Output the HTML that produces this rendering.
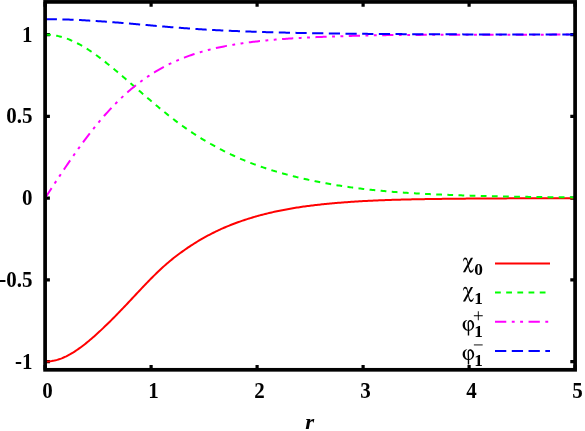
<!DOCTYPE html>
<html><head><meta charset="utf-8"><title>plot</title>
<style>
html,body{margin:0;padding:0;background:#fff;}
body{width:585px;height:431px;overflow:hidden;font-family:"Liberation Serif",serif;}
svg{display:block;will-change:transform;opacity:0.999;}
</style></head><body>
<svg width="585" height="431" viewBox="0 0 585 431">
<rect x="0" y="0" width="585" height="431" fill="#ffffff"/>
<path d="M45.10,369.80 v-4.80 M45.10,1.90 v4.80 M151.10,369.80 v-4.80 M151.10,1.90 v4.80 M257.10,369.80 v-4.80 M257.10,1.90 v4.80 M363.10,369.80 v-4.80 M363.10,1.90 v4.80 M469.10,369.80 v-4.80 M469.10,1.90 v4.80 M575.10,369.80 v-4.80 M575.10,1.90 v4.80 M45.10,361.62 h4.80 M575.10,361.62 h-4.80 M45.10,279.87 h4.80 M575.10,279.87 h-4.80 M45.10,198.11 h4.80 M575.10,198.11 h-4.80 M45.10,116.36 h4.80 M575.10,116.36 h-4.80 M45.10,34.60 h4.80 M575.10,34.60 h-4.80" stroke="#000" stroke-width="3.2" fill="none"/>
<path d="M45.10,361.62 L46.43,361.60 L47.75,361.54 L49.08,361.43 L50.40,361.28 L51.73,361.09 L53.05,360.85 L54.38,360.58 L55.70,360.26 L57.02,359.90 L58.35,359.50 L59.68,359.06 L61.00,358.58 L62.33,358.06 L63.65,357.50 L64.97,356.91 L66.30,356.28 L67.62,355.61 L68.95,354.91 L70.28,354.18 L71.60,353.41 L72.93,352.62 L74.25,351.79 L75.58,350.93 L76.90,350.04 L78.22,349.13 L79.55,348.19 L80.88,347.23 L82.20,346.24 L83.53,345.22 L84.85,344.19 L86.18,343.13 L87.50,342.06 L88.83,340.96 L90.15,339.85 L91.47,338.72 L92.80,337.57 L94.12,336.40 L95.45,335.22 L96.78,334.03 L98.10,332.82 L99.43,331.60 L100.75,330.36 L102.08,329.12 L103.40,327.86 L104.72,326.59 L106.05,325.31 L107.38,324.03 L108.70,322.73 L110.03,321.42 L111.35,320.11 L112.68,318.78 L114.00,317.45 L115.33,316.11 L116.65,314.76 L117.97,313.40 L119.30,312.04 L120.62,310.66 L121.95,309.28 L123.28,307.90 L124.60,306.50 L125.93,305.10 L127.25,303.70 L128.58,302.29 L129.90,300.88 L131.22,299.47 L132.55,298.05 L133.88,296.63 L135.20,295.22 L136.53,293.80 L137.85,292.39 L139.18,290.98 L140.50,289.57 L141.83,288.17 L143.15,286.77 L144.47,285.38 L145.80,284.00 L147.12,282.62 L148.45,281.25 L149.78,279.90 L151.10,278.55 L152.42,277.22 L153.75,275.90 L155.08,274.59 L156.40,273.29 L157.72,272.01 L159.05,270.75 L160.38,269.50 L161.70,268.27 L163.03,267.06 L164.35,265.87 L165.67,264.70 L167.00,263.54 L168.33,262.41 L169.65,261.30 L170.97,260.21 L172.30,259.14 L173.62,258.09 L174.95,257.06 L176.28,256.04 L177.60,255.03 L178.93,254.03 L180.25,253.05 L181.57,252.08 L182.90,251.13 L184.22,250.19 L185.55,249.26 L186.88,248.34 L188.20,247.44 L189.53,246.56 L190.85,245.68 L192.18,244.82 L193.50,243.97 L194.83,243.13 L196.15,242.31 L197.47,241.50 L198.80,240.70 L200.13,239.92 L201.45,239.14 L202.77,238.38 L204.10,237.64 L205.43,236.90 L206.75,236.17 L208.07,235.46 L209.40,234.76 L210.72,234.07 L212.05,233.39 L213.38,232.73 L214.70,232.07 L216.03,231.43 L217.35,230.80 L218.68,230.17 L220.00,229.56 L221.33,228.96 L222.65,228.37 L223.97,227.79 L225.30,227.22 L226.62,226.66 L227.95,226.11 L229.28,225.57 L230.60,225.04 L231.93,224.52 L233.25,224.01 L234.58,223.50 L235.90,223.01 L237.22,222.53 L238.55,222.05 L239.88,221.58 L241.20,221.12 L242.53,220.66 L243.85,220.21 L245.18,219.78 L246.50,219.34 L247.82,218.92 L249.15,218.50 L250.47,218.09 L251.80,217.69 L253.12,217.29 L254.45,216.90 L255.78,216.52 L257.10,216.14 L258.43,215.77 L259.75,215.41 L261.08,215.05 L262.40,214.70 L263.73,214.36 L265.05,214.02 L266.38,213.69 L267.70,213.36 L269.03,213.04 L270.35,212.73 L271.68,212.42 L273.00,212.12 L274.32,211.82 L275.65,211.53 L276.98,211.25 L278.30,210.97 L279.62,210.70 L280.95,210.43 L282.28,210.16 L283.60,209.91 L284.93,209.65 L286.25,209.41 L287.58,209.16 L288.90,208.92 L290.23,208.69 L291.55,208.46 L292.88,208.24 L294.20,208.02 L295.53,207.81 L296.85,207.59 L298.18,207.39 L299.50,207.19 L300.83,206.99 L302.15,206.80 L303.48,206.61 L304.80,206.42 L306.13,206.24 L307.45,206.07 L308.78,205.89 L310.10,205.72 L311.43,205.56 L312.75,205.40 L314.08,205.24 L315.40,205.08 L316.73,204.93 L318.05,204.78 L319.38,204.64 L320.70,204.50 L322.03,204.36 L323.35,204.22 L324.68,204.09 L326.00,203.96 L327.32,203.83 L328.65,203.70 L329.98,203.57 L331.30,203.45 L332.63,203.33 L333.95,203.21 L335.28,203.09 L336.60,202.98 L337.93,202.87 L339.25,202.76 L340.58,202.65 L341.90,202.55 L343.23,202.44 L344.55,202.34 L345.88,202.24 L347.20,202.15 L348.53,202.05 L349.85,201.96 L351.18,201.87 L352.50,201.78 L353.83,201.69 L355.15,201.60 L356.48,201.52 L357.80,201.43 L359.13,201.35 L360.45,201.28 L361.78,201.20 L363.10,201.12 L364.43,201.05 L365.75,200.98 L367.08,200.91 L368.40,200.84 L369.73,200.77 L371.05,200.71 L372.38,200.64 L373.70,200.58 L375.03,200.52 L376.35,200.46 L377.68,200.40 L379.00,200.35 L380.33,200.29 L381.65,200.24 L382.98,200.19 L384.30,200.14 L385.63,200.09 L386.95,200.04 L388.28,200.00 L389.60,199.95 L390.93,199.91 L392.25,199.86 L393.57,199.82 L394.90,199.78 L396.23,199.75 L397.55,199.71 L398.88,199.67 L400.20,199.64 L401.53,199.60 L402.85,199.57 L404.18,199.54 L405.50,199.51 L406.83,199.48 L408.15,199.45 L409.48,199.42 L410.80,199.39 L412.13,199.36 L413.45,199.33 L414.78,199.31 L416.10,199.28 L417.43,199.26 L418.75,199.23 L420.08,199.21 L421.40,199.18 L422.73,199.16 L424.05,199.14 L425.38,199.11 L426.70,199.09 L428.03,199.07 L429.35,199.05 L430.68,199.03 L432.00,199.01 L433.33,198.99 L434.65,198.97 L435.98,198.95 L437.30,198.94 L438.63,198.92 L439.95,198.90 L441.28,198.88 L442.60,198.87 L443.93,198.85 L445.25,198.83 L446.58,198.82 L447.90,198.80 L449.23,198.79 L450.55,198.77 L451.88,198.76 L453.20,198.74 L454.53,198.73 L455.85,198.72 L457.18,198.70 L458.50,198.69 L459.82,198.68 L461.15,198.67 L462.48,198.65 L463.80,198.64 L465.13,198.63 L466.45,198.62 L467.78,198.61 L469.10,198.60 L470.43,198.59 L471.75,198.58 L473.08,198.57 L474.40,198.56 L475.73,198.55 L477.05,198.54 L478.38,198.53 L479.70,198.52 L481.03,198.51 L482.35,198.50 L483.68,198.49 L485.00,198.49 L486.33,198.48 L487.65,198.47 L488.98,198.46 L490.30,198.45 L491.63,198.45 L492.95,198.44 L494.27,198.43 L495.60,198.43 L496.93,198.42 L498.25,198.41 L499.58,198.41 L500.90,198.40 L502.23,198.39 L503.55,198.39 L504.88,198.38 L506.20,198.38 L507.52,198.37 L508.85,198.36 L510.18,198.36 L511.50,198.35 L512.83,198.35 L514.15,198.34 L515.48,198.34 L516.80,198.33 L518.12,198.33 L519.45,198.32 L520.77,198.32 L522.10,198.31 L523.43,198.31 L524.75,198.31 L526.08,198.30 L527.40,198.30 L528.73,198.29 L530.05,198.29 L531.38,198.29 L532.70,198.28 L534.02,198.28 L535.35,198.27 L536.67,198.27 L538.00,198.27 L539.33,198.26 L540.65,198.26 L541.98,198.26 L543.30,198.25 L544.62,198.25 L545.95,198.25 L547.27,198.25 L548.60,198.24 L549.92,198.24 L551.25,198.24 L552.58,198.23 L553.90,198.23 L555.23,198.23 L556.55,198.23 L557.88,198.22 L559.20,198.22 L560.53,198.22 L561.85,198.22 L563.18,198.22 L564.50,198.21 L565.83,198.21 L567.15,198.21 L568.48,198.21 L569.80,198.20 L571.12,198.20 L572.45,198.20 L573.78,198.20 L575.10,198.20" stroke="#ff0000" stroke-width="2.0" fill="none" stroke-linejoin="round"/>
<path d="M45.10,34.60 L46.43,34.62 L47.75,34.66 L49.08,34.74 L50.40,34.85 L51.73,34.98 L53.05,35.15 L54.38,35.35 L55.70,35.58 L57.02,35.83 L58.35,36.12 L59.68,36.44 L61.00,36.78 L62.33,37.15 L63.65,37.56 L64.97,37.99 L66.30,38.44 L67.62,38.93 L68.95,39.44 L70.28,39.98 L71.60,40.55 L72.93,41.14 L74.25,41.75 L75.58,42.39 L76.90,43.05 L78.22,43.74 L79.55,44.45 L80.88,45.19 L82.20,45.94 L83.53,46.72 L84.85,47.51 L86.18,48.33 L87.50,49.17 L88.83,50.03 L90.15,50.90 L91.47,51.79 L92.80,52.70 L94.12,53.63 L95.45,54.57 L96.78,55.53 L98.10,56.50 L99.43,57.49 L100.75,58.49 L102.08,59.50 L103.40,60.52 L104.72,61.56 L106.05,62.61 L107.38,63.66 L108.70,64.73 L110.03,65.81 L111.35,66.89 L112.68,67.98 L114.00,69.08 L115.33,70.19 L116.65,71.30 L117.97,72.42 L119.30,73.55 L120.62,74.68 L121.95,75.81 L123.28,76.94 L124.60,78.08 L125.93,79.23 L127.25,80.37 L128.58,81.52 L129.90,82.66 L131.22,83.81 L132.55,84.96 L133.88,86.11 L135.20,87.26 L136.53,88.41 L137.85,89.57 L139.18,90.72 L140.50,91.87 L141.83,93.02 L143.15,94.16 L144.47,95.31 L145.80,96.45 L147.12,97.59 L148.45,98.73 L149.78,99.86 L151.10,100.99 L152.42,102.12 L153.75,103.24 L155.08,104.36 L156.40,105.47 L157.72,106.57 L159.05,107.67 L160.38,108.77 L161.70,109.86 L163.03,110.94 L164.35,112.01 L165.67,113.08 L167.00,114.14 L168.33,115.19 L169.65,116.24 L170.97,117.28 L172.30,118.30 L173.62,119.32 L174.95,120.34 L176.28,121.34 L177.60,122.33 L178.93,123.32 L180.25,124.29 L181.57,125.26 L182.90,126.21 L184.22,127.16 L185.55,128.09 L186.88,129.02 L188.20,129.93 L189.53,130.84 L190.85,131.73 L192.18,132.61 L193.50,133.49 L194.83,134.35 L196.15,135.20 L197.47,136.05 L198.80,136.88 L200.13,137.71 L201.45,138.53 L202.77,139.33 L204.10,140.13 L205.43,140.92 L206.75,141.71 L208.07,142.48 L209.40,143.24 L210.72,144.00 L212.05,144.74 L213.38,145.48 L214.70,146.21 L216.03,146.93 L217.35,147.64 L218.68,148.35 L220.00,149.04 L221.33,149.73 L222.65,150.41 L223.97,151.08 L225.30,151.74 L226.62,152.39 L227.95,153.04 L229.28,153.67 L230.60,154.30 L231.93,154.92 L233.25,155.53 L234.58,156.14 L235.90,156.74 L237.22,157.33 L238.55,157.91 L239.88,158.48 L241.20,159.05 L242.53,159.61 L243.85,160.16 L245.18,160.71 L246.50,161.24 L247.82,161.78 L249.15,162.30 L250.47,162.82 L251.80,163.32 L253.12,163.83 L254.45,164.32 L255.78,164.81 L257.10,165.30 L258.43,165.77 L259.75,166.24 L261.08,166.70 L262.40,167.16 L263.73,167.61 L265.05,168.06 L266.38,168.49 L267.70,168.93 L269.03,169.35 L270.35,169.77 L271.68,170.19 L273.00,170.60 L274.32,171.00 L275.65,171.40 L276.98,171.79 L278.30,172.17 L279.62,172.55 L280.95,172.93 L282.28,173.30 L283.60,173.67 L284.93,174.04 L286.25,174.40 L287.58,174.75 L288.90,175.10 L290.23,175.45 L291.55,175.79 L292.88,176.13 L294.20,176.47 L295.53,176.80 L296.85,177.13 L298.18,177.45 L299.50,177.77 L300.83,178.08 L302.15,178.40 L303.48,178.70 L304.80,179.01 L306.13,179.31 L307.45,179.60 L308.78,179.89 L310.10,180.18 L311.43,180.47 L312.75,180.75 L314.08,181.02 L315.40,181.30 L316.73,181.57 L318.05,181.83 L319.38,182.09 L320.70,182.35 L322.03,182.61 L323.35,182.86 L324.68,183.11 L326.00,183.35 L327.32,183.59 L328.65,183.83 L329.98,184.07 L331.30,184.30 L332.63,184.52 L333.95,184.75 L335.28,184.97 L336.60,185.19 L337.93,185.40 L339.25,185.61 L340.58,185.82 L341.90,186.03 L343.23,186.23 L344.55,186.43 L345.88,186.62 L347.20,186.81 L348.53,187.00 L349.85,187.19 L351.18,187.37 L352.50,187.56 L353.83,187.73 L355.15,187.91 L356.48,188.08 L357.80,188.25 L359.13,188.42 L360.45,188.58 L361.78,188.74 L363.10,188.90 L364.43,189.06 L365.75,189.21 L367.08,189.36 L368.40,189.51 L369.73,189.65 L371.05,189.80 L372.38,189.94 L373.70,190.08 L375.03,190.21 L376.35,190.35 L377.68,190.48 L379.00,190.61 L380.33,190.73 L381.65,190.86 L382.98,190.98 L384.30,191.10 L385.63,191.22 L386.95,191.33 L388.28,191.44 L389.60,191.56 L390.93,191.67 L392.25,191.77 L393.57,191.88 L394.90,191.98 L396.23,192.08 L397.55,192.18 L398.88,192.28 L400.20,192.37 L401.53,192.47 L402.85,192.56 L404.18,192.65 L405.50,192.74 L406.83,192.83 L408.15,192.91 L409.48,192.99 L410.80,193.08 L412.13,193.16 L413.45,193.23 L414.78,193.31 L416.10,193.39 L417.43,193.46 L418.75,193.53 L420.08,193.60 L421.40,193.67 L422.73,193.74 L424.05,193.81 L425.38,193.88 L426.70,193.95 L428.03,194.01 L429.35,194.07 L430.68,194.14 L432.00,194.20 L433.33,194.26 L434.65,194.32 L435.98,194.38 L437.30,194.44 L438.63,194.50 L439.95,194.55 L441.28,194.61 L442.60,194.66 L443.93,194.72 L445.25,194.77 L446.58,194.82 L447.90,194.87 L449.23,194.92 L450.55,194.97 L451.88,195.02 L453.20,195.07 L454.53,195.12 L455.85,195.17 L457.18,195.21 L458.50,195.26 L459.82,195.30 L461.15,195.35 L462.48,195.39 L463.80,195.43 L465.13,195.47 L466.45,195.52 L467.78,195.56 L469.10,195.60 L470.43,195.64 L471.75,195.67 L473.08,195.71 L474.40,195.75 L475.73,195.79 L477.05,195.82 L478.38,195.86 L479.70,195.89 L481.03,195.93 L482.35,195.96 L483.68,196.00 L485.00,196.03 L486.33,196.06 L487.65,196.09 L488.98,196.13 L490.30,196.16 L491.63,196.19 L492.95,196.22 L494.27,196.25 L495.60,196.28 L496.93,196.31 L498.25,196.33 L499.58,196.36 L500.90,196.39 L502.23,196.42 L503.55,196.44 L504.88,196.47 L506.20,196.49 L507.52,196.52 L508.85,196.54 L510.18,196.57 L511.50,196.59 L512.83,196.62 L514.15,196.64 L515.48,196.66 L516.80,196.69 L518.12,196.71 L519.45,196.73 L520.77,196.75 L522.10,196.77 L523.43,196.79 L524.75,196.82 L526.08,196.84 L527.40,196.86 L528.73,196.88 L530.05,196.89 L531.38,196.91 L532.70,196.93 L534.02,196.95 L535.35,196.97 L536.67,196.99 L538.00,197.00 L539.33,197.02 L540.65,197.04 L541.98,197.06 L543.30,197.07 L544.62,197.09 L545.95,197.10 L547.27,197.12 L548.60,197.14 L549.92,197.15 L551.25,197.17 L552.58,197.18 L553.90,197.20 L555.23,197.21 L556.55,197.22 L557.88,197.24 L559.20,197.25 L560.53,197.27 L561.85,197.28 L563.18,197.29 L564.50,197.30 L565.83,197.32 L567.15,197.33 L568.48,197.34 L569.80,197.35 L571.12,197.37 L572.45,197.38 L573.78,197.39 L575.10,197.40" stroke="#00ff00" stroke-width="2.0" fill="none" stroke-dasharray="5.77 5.37"/>
<path d="M45.10,198.11 L46.43,196.08 L47.75,194.05 L49.08,192.02 L50.40,189.99 L51.73,187.97 L53.05,185.95 L54.38,183.93 L55.70,181.91 L57.02,179.90 L58.35,177.90 L59.68,175.90 L61.00,173.91 L62.33,171.93 L63.65,169.96 L64.97,167.99 L66.30,166.03 L67.62,164.08 L68.95,162.15 L70.28,160.22 L71.60,158.30 L72.93,156.40 L74.25,154.51 L75.58,152.63 L76.90,150.77 L78.22,148.91 L79.55,147.08 L80.88,145.25 L82.20,143.44 L83.53,141.65 L84.85,139.87 L86.18,138.11 L87.50,136.36 L88.83,134.63 L90.15,132.92 L91.47,131.23 L92.80,129.55 L94.12,127.89 L95.45,126.24 L96.78,124.62 L98.10,123.01 L99.43,121.43 L100.75,119.86 L102.08,118.31 L103.40,116.78 L104.72,115.27 L106.05,113.77 L107.38,112.30 L108.70,110.84 L110.03,109.41 L111.35,108.00 L112.68,106.60 L114.00,105.22 L115.33,103.87 L116.65,102.53 L117.97,101.21 L119.30,99.91 L120.62,98.64 L121.95,97.38 L123.28,96.14 L124.60,94.92 L125.93,93.72 L127.25,92.54 L128.58,91.37 L129.90,90.23 L131.22,89.10 L132.55,88.00 L133.88,86.91 L135.20,85.84 L136.53,84.79 L137.85,83.76 L139.18,82.75 L140.50,81.75 L141.83,80.77 L143.15,79.81 L144.47,78.87 L145.80,77.94 L147.12,77.03 L148.45,76.14 L149.78,75.26 L151.10,74.40 L152.42,73.56 L153.75,72.73 L155.08,71.92 L156.40,71.12 L157.72,70.34 L159.05,69.57 L160.38,68.82 L161.70,68.09 L163.03,67.37 L164.35,66.66 L165.67,65.97 L167.00,65.29 L168.33,64.62 L169.65,63.97 L170.97,63.33 L172.30,62.71 L173.62,62.10 L174.95,61.50 L176.28,60.91 L177.60,60.33 L178.93,59.77 L180.25,59.22 L181.57,58.68 L182.90,58.15 L184.22,57.63 L185.55,57.13 L186.88,56.63 L188.20,56.15 L189.53,55.67 L190.85,55.21 L192.18,54.76 L193.50,54.31 L194.83,53.88 L196.15,53.45 L197.47,53.03 L198.80,52.63 L200.13,52.23 L201.45,51.84 L202.77,51.46 L204.10,51.09 L205.43,50.72 L206.75,50.37 L208.07,50.02 L209.40,49.68 L210.72,49.35 L212.05,49.02 L213.38,48.70 L214.70,48.39 L216.03,48.09 L217.35,47.79 L218.68,47.50 L220.00,47.21 L221.33,46.94 L222.65,46.67 L223.97,46.40 L225.30,46.14 L226.62,45.89 L227.95,45.64 L229.28,45.40 L230.60,45.16 L231.93,44.93 L233.25,44.70 L234.58,44.48 L235.90,44.26 L237.22,44.05 L238.55,43.84 L239.88,43.64 L241.20,43.44 L242.53,43.25 L243.85,43.06 L245.18,42.88 L246.50,42.70 L247.82,42.52 L249.15,42.35 L250.47,42.18 L251.80,42.01 L253.12,41.85 L254.45,41.70 L255.78,41.54 L257.10,41.39 L258.43,41.24 L259.75,41.10 L261.08,40.96 L262.40,40.82 L263.73,40.69 L265.05,40.55 L266.38,40.42 L267.70,40.30 L269.03,40.18 L270.35,40.05 L271.68,39.94 L273.00,39.82 L274.32,39.71 L275.65,39.60 L276.98,39.49 L278.30,39.38 L279.62,39.28 L280.95,39.18 L282.28,39.08 L283.60,38.98 L284.93,38.89 L286.25,38.80 L287.58,38.70 L288.90,38.62 L290.23,38.53 L291.55,38.44 L292.88,38.36 L294.20,38.28 L295.53,38.20 L296.85,38.12 L298.18,38.04 L299.50,37.97 L300.83,37.89 L302.15,37.82 L303.48,37.75 L304.80,37.68 L306.13,37.61 L307.45,37.54 L308.78,37.48 L310.10,37.41 L311.43,37.35 L312.75,37.29 L314.08,37.23 L315.40,37.17 L316.73,37.11 L318.05,37.05 L319.38,37.00 L320.70,36.94 L322.03,36.89 L323.35,36.83 L324.68,36.78 L326.00,36.73 L327.32,36.68 L328.65,36.63 L329.98,36.58 L331.30,36.54 L332.63,36.49 L333.95,36.44 L335.28,36.40 L336.60,36.35 L337.93,36.31 L339.25,36.27 L340.58,36.22 L341.90,36.18 L343.23,36.14 L344.55,36.10 L345.88,36.06 L347.20,36.02 L348.53,35.99 L349.85,35.95 L351.18,35.91 L352.50,35.87 L353.83,35.84 L355.15,35.80 L356.48,35.77 L357.80,35.73 L359.13,35.70 L360.45,35.67 L361.78,35.63 L363.10,35.60 L364.43,35.57 L365.75,35.54 L367.08,35.51 L368.40,35.48 L369.73,35.45 L371.05,35.42 L372.38,35.39 L373.70,35.36 L375.03,35.33 L376.35,35.30 L377.68,35.28 L379.00,35.25 L380.33,35.22 L381.65,35.20 L382.98,35.17 L384.30,35.14 L385.63,35.13 L386.95,35.12 L388.28,35.11 L389.60,35.09 L390.93,35.08 L392.25,35.07 L393.57,35.06 L394.90,35.05 L396.23,35.04 L397.55,35.02 L398.88,35.01 L400.20,35.00 L401.53,34.99 L402.85,34.98 L404.18,34.98 L405.50,34.97 L406.83,34.96 L408.15,34.95 L409.48,34.94 L410.80,34.93 L412.13,34.92 L413.45,34.92 L414.78,34.91 L416.10,34.90 L417.43,34.89 L418.75,34.89 L420.08,34.88 L421.40,34.87 L422.73,34.87 L424.05,34.86 L425.38,34.85 L426.70,34.85 L428.03,34.84 L429.35,34.83 L430.68,34.83 L432.00,34.82 L433.33,34.82 L434.65,34.81 L435.98,34.81 L437.30,34.80 L438.63,34.80 L439.95,34.79 L441.28,34.79 L442.60,34.78 L443.93,34.78 L445.25,34.77 L446.58,34.77 L447.90,34.77 L449.23,34.76 L450.55,34.76 L451.88,34.75 L453.20,34.75 L454.53,34.75 L455.85,34.74 L457.18,34.74 L458.50,34.74 L459.82,34.73 L461.15,34.73 L462.48,34.73 L463.80,34.72 L465.13,34.72 L466.45,34.72 L467.78,34.71 L469.10,34.71 L470.43,34.71 L471.75,34.71 L473.08,34.70 L474.40,34.70 L475.73,34.70 L477.05,34.70 L478.38,34.69 L479.70,34.69 L481.03,34.69 L482.35,34.69 L483.68,34.69 L485.00,34.68 L486.33,34.68 L487.65,34.68 L488.98,34.68 L490.30,34.68 L491.63,34.67 L492.95,34.67 L494.27,34.67 L495.60,34.67 L496.93,34.67 L498.25,34.67 L499.58,34.66 L500.90,34.66 L502.23,34.66 L503.55,34.66 L504.88,34.66 L506.20,34.66 L507.52,34.66 L508.85,34.65 L510.18,34.65 L511.50,34.65 L512.83,34.65 L514.15,34.65 L515.48,34.65 L516.80,34.65 L518.12,34.65 L519.45,34.64 L520.77,34.64 L522.10,34.64 L523.43,34.64 L524.75,34.64 L526.08,34.64 L527.40,34.64 L528.73,34.64 L530.05,34.64 L531.38,34.64 L532.70,34.64 L534.02,34.63 L535.35,34.63 L536.67,34.63 L538.00,34.63 L539.33,34.63 L540.65,34.63 L541.98,34.63 L543.30,34.63 L544.62,34.63 L545.95,34.63 L547.27,34.63 L548.60,34.63 L549.92,34.63 L551.25,34.63 L552.58,34.62 L553.90,34.62 L555.23,34.62 L556.55,34.62 L557.88,34.62 L559.20,34.62 L560.53,34.62 L561.85,34.62 L563.18,34.62 L564.50,34.62 L565.83,34.62 L567.15,34.62 L568.48,34.62 L569.80,34.62 L571.12,34.62 L572.45,34.62 L573.78,34.62 L575.10,34.62" stroke="#ff00ff" stroke-width="2.0" fill="none" stroke-dasharray="11.23 5.47 2.88 5.47 2.88 5.47" stroke-dashoffset="-0.7"/>
<path d="M45.10,19.15 L46.43,19.15 L47.75,19.16 L49.08,19.16 L50.40,19.17 L51.73,19.19 L53.05,19.20 L54.38,19.22 L55.70,19.24 L57.02,19.26 L58.35,19.29 L59.68,19.32 L61.00,19.35 L62.33,19.38 L63.65,19.42 L64.97,19.46 L66.30,19.50 L67.62,19.54 L68.95,19.59 L70.28,19.64 L71.60,19.69 L72.93,19.74 L74.25,19.80 L75.58,19.86 L76.90,19.92 L78.22,19.98 L79.55,20.05 L80.88,20.11 L82.20,20.18 L83.53,20.25 L84.85,20.32 L86.18,20.40 L87.50,20.48 L88.83,20.55 L90.15,20.63 L91.47,20.71 L92.80,20.80 L94.12,20.88 L95.45,20.97 L96.78,21.06 L98.10,21.14 L99.43,21.23 L100.75,21.33 L102.08,21.42 L103.40,21.51 L104.72,21.61 L106.05,21.70 L107.38,21.80 L108.70,21.90 L110.03,21.99 L111.35,22.09 L112.68,22.20 L114.00,22.30 L115.33,22.40 L116.65,22.50 L117.97,22.61 L119.30,22.72 L120.62,22.82 L121.95,22.93 L123.28,23.04 L124.60,23.15 L125.93,23.26 L127.25,23.37 L128.58,23.48 L129.90,23.59 L131.22,23.70 L132.55,23.82 L133.88,23.93 L135.20,24.05 L136.53,24.16 L137.85,24.27 L139.18,24.39 L140.50,24.50 L141.83,24.62 L143.15,24.74 L144.47,24.85 L145.80,24.97 L147.12,25.08 L148.45,25.20 L149.78,25.32 L151.10,25.43 L152.42,25.55 L153.75,25.66 L155.08,25.78 L156.40,25.89 L157.72,26.01 L159.05,26.12 L160.38,26.24 L161.70,26.35 L163.03,26.46 L164.35,26.57 L165.67,26.69 L167.00,26.80 L168.33,26.91 L169.65,27.02 L170.97,27.13 L172.30,27.23 L173.62,27.34 L174.95,27.45 L176.28,27.55 L177.60,27.66 L178.93,27.76 L180.25,27.86 L181.57,27.96 L182.90,28.06 L184.22,28.16 L185.55,28.26 L186.88,28.36 L188.20,28.45 L189.53,28.55 L190.85,28.64 L192.18,28.73 L193.50,28.82 L194.83,28.91 L196.15,29.00 L197.47,29.09 L198.80,29.17 L200.13,29.26 L201.45,29.34 L202.77,29.42 L204.10,29.50 L205.43,29.58 L206.75,29.66 L208.07,29.73 L209.40,29.81 L210.72,29.88 L212.05,29.95 L213.38,30.02 L214.70,30.09 L216.03,30.16 L217.35,30.22 L218.68,30.29 L220.00,30.35 L221.33,30.42 L222.65,30.48 L223.97,30.54 L225.30,30.60 L226.62,30.66 L227.95,30.72 L229.28,30.78 L230.60,30.84 L231.93,30.90 L233.25,30.95 L234.58,31.01 L235.90,31.06 L237.22,31.12 L238.55,31.17 L239.88,31.22 L241.20,31.28 L242.53,31.33 L243.85,31.38 L245.18,31.43 L246.50,31.48 L247.82,31.52 L249.15,31.57 L250.47,31.62 L251.80,31.66 L253.12,31.71 L254.45,31.75 L255.78,31.80 L257.10,31.84 L258.43,31.89 L259.75,31.93 L261.08,31.97 L262.40,32.01 L263.73,32.05 L265.05,32.09 L266.38,32.13 L267.70,32.17 L269.03,32.21 L270.35,32.24 L271.68,32.28 L273.00,32.32 L274.32,32.35 L275.65,32.39 L276.98,32.42 L278.30,32.46 L279.62,32.49 L280.95,32.52 L282.28,32.56 L283.60,32.59 L284.93,32.62 L286.25,32.65 L287.58,32.68 L288.90,32.71 L290.23,32.74 L291.55,32.77 L292.88,32.80 L294.20,32.83 L295.53,32.86 L296.85,32.89 L298.18,32.91 L299.50,32.94 L300.83,32.97 L302.15,32.99 L303.48,33.02 L304.80,33.04 L306.13,33.07 L307.45,33.09 L308.78,33.12 L310.10,33.14 L311.43,33.16 L312.75,33.19 L314.08,33.21 L315.40,33.23 L316.73,33.25 L318.05,33.27 L319.38,33.30 L320.70,33.32 L322.03,33.34 L323.35,33.36 L324.68,33.38 L326.00,33.40 L327.32,33.42 L328.65,33.43 L329.98,33.45 L331.30,33.47 L332.63,33.49 L333.95,33.51 L335.28,33.52 L336.60,33.54 L337.93,33.56 L339.25,33.58 L340.58,33.59 L341.90,33.61 L343.23,33.62 L344.55,33.64 L345.88,33.66 L347.20,33.67 L348.53,33.69 L349.85,33.70 L351.18,33.71 L352.50,33.73 L353.83,33.74 L355.15,33.76 L356.48,33.77 L357.80,33.78 L359.13,33.80 L360.45,33.81 L361.78,33.82 L363.10,33.83 L364.43,33.85 L365.75,33.86 L367.08,33.87 L368.40,33.88 L369.73,33.89 L371.05,33.91 L372.38,33.92 L373.70,33.93 L375.03,33.94 L376.35,33.95 L377.68,33.96 L379.00,33.97 L380.33,33.98 L381.65,33.99 L382.98,34.00 L384.30,34.01 L385.63,34.02 L386.95,34.03 L388.28,34.04 L389.60,34.05 L390.93,34.06 L392.25,34.06 L393.57,34.07 L394.90,34.08 L396.23,34.09 L397.55,34.10 L398.88,34.11 L400.20,34.11 L401.53,34.12 L402.85,34.13 L404.18,34.14 L405.50,34.15 L406.83,34.15 L408.15,34.16 L409.48,34.17 L410.80,34.17 L412.13,34.18 L413.45,34.19 L414.78,34.19 L416.10,34.20 L417.43,34.21 L418.75,34.21 L420.08,34.22 L421.40,34.23 L422.73,34.23 L424.05,34.24 L425.38,34.24 L426.70,34.25 L428.03,34.26 L429.35,34.26 L430.68,34.27 L432.00,34.27 L433.33,34.28 L434.65,34.28 L435.98,34.29 L437.30,34.29 L438.63,34.30 L439.95,34.30 L441.28,34.31 L442.60,34.31 L443.93,34.32 L445.25,34.32 L446.58,34.33 L447.90,34.33 L449.23,34.33 L450.55,34.34 L451.88,34.34 L453.20,34.35 L454.53,34.35 L455.85,34.36 L457.18,34.36 L458.50,34.36 L459.82,34.37 L461.15,34.37 L462.48,34.37 L463.80,34.38 L465.13,34.38 L466.45,34.39 L467.78,34.39 L469.10,34.39 L470.43,34.40 L471.75,34.40 L473.08,34.40 L474.40,34.41 L475.73,34.41 L477.05,34.41 L478.38,34.41 L479.70,34.42 L481.03,34.42 L482.35,34.42 L483.68,34.43 L485.00,34.43 L486.33,34.43 L487.65,34.44 L488.98,34.44 L490.30,34.44 L491.63,34.44 L492.95,34.45 L494.27,34.45 L495.60,34.45 L496.93,34.45 L498.25,34.46 L499.58,34.46 L500.90,34.46 L502.23,34.46 L503.55,34.46 L504.88,34.47 L506.20,34.47 L507.52,34.47 L508.85,34.47 L510.18,34.48 L511.50,34.48 L512.83,34.48 L514.15,34.48 L515.48,34.48 L516.80,34.49 L518.12,34.49 L519.45,34.49 L520.77,34.49 L522.10,34.49 L523.43,34.49 L524.75,34.50 L526.08,34.50 L527.40,34.50 L528.73,34.50 L530.05,34.50 L531.38,34.50 L532.70,34.51 L534.02,34.51 L535.35,34.51 L536.67,34.51 L538.00,34.51 L539.33,34.51 L540.65,34.51 L541.98,34.52 L543.30,34.52 L544.62,34.52 L545.95,34.52 L547.27,34.52 L548.60,34.52 L549.92,34.52 L551.25,34.53 L552.58,34.53 L553.90,34.53 L555.23,34.53 L556.55,34.53 L557.88,34.53 L559.20,34.53 L560.53,34.53 L561.85,34.53 L563.18,34.54 L564.50,34.54 L565.83,34.54 L567.15,34.54 L568.48,34.54 L569.80,34.54 L571.12,34.54 L572.45,34.54 L573.78,34.54 L575.10,34.55" stroke="#0000ff" stroke-width="2.0" fill="none" stroke-dasharray="11.22 5.46" stroke-dashoffset="-0.6"/>
<path d="M495.0,263.4 H550.0" stroke="#ff0000" stroke-width="2.0" fill="none"/>
<path d="M495.0,292.5 H550.0" stroke="#00ff00" stroke-width="2.0" fill="none" stroke-dasharray="5.79 5.39"/>
<path d="M495.0,321.8 H550.0" stroke="#ff00ff" stroke-width="2.0" fill="none" stroke-dasharray="11.28 5.49 2.90 5.49 2.90 5.49"/>
<path d="M495.0,351.0 H550.0" stroke="#0000ff" stroke-width="2.0" fill="none" stroke-dasharray="11.28 5.49"/>
<rect x="45.1" y="1.9" width="530.0" height="367.90000000000003" fill="none" stroke="#000" stroke-width="3.7"/>
<g font-family="Liberation Serif, serif" font-weight="bold" font-size="21px" fill="#000">
<text transform="translate(32.55,368.97) scale(1,1.065)" text-anchor="end">-1</text>
<text transform="translate(32.55,287.12) scale(1,1.065)" text-anchor="end">-0.5</text>
<text transform="translate(32.55,205.46) scale(1,1.065)" text-anchor="end">0</text>
<text transform="translate(32.55,123.31) scale(1,1.065)" text-anchor="end">0.5</text>
<text transform="translate(32.55,42.30) scale(1,1.065)" text-anchor="end">1</text>
<text transform="translate(47.50,397.85) scale(1,1.065)" text-anchor="middle">0</text>
<text transform="translate(153.50,397.85) scale(1,1.065)" text-anchor="middle">1</text>
<text transform="translate(259.50,397.85) scale(1,1.065)" text-anchor="middle">2</text>
<text transform="translate(365.50,397.85) scale(1,1.065)" text-anchor="middle">3</text>
<text transform="translate(471.50,397.85) scale(1,1.065)" text-anchor="middle">4</text>
<text transform="translate(577.50,397.85) scale(1,1.065)" text-anchor="middle">5</text>
<text transform="translate(309.6,428.8) scale(1.09,0.98)" text-anchor="middle" font-style="italic">r</text>
</g>
<g font-family="Liberation Serif, serif" font-weight="bold" font-size="17.3px" fill="#000">
<path d="M391 500 262 262 226 412C211 475 173 513 124 513C64 513 22 446 12 335H39C46 395 76 434 113 434C137 434 163 418 179 394C187 381 196 358 202 331L232 207L14 -191H120L262 73L278 -14C293 -89 296 -103 303 -123C324 -179 358 -210 399 -210C435 -210 471 -184 493 -145C510 -114 519 -77 522 -25H498C488 -60 484 -70 477 -80C463 -104 439 -117 413 -117C366 -117 341 -76 311 48L292 127L495 500Z" transform="translate(462.65,268.30) scale(0.02100,-0.02100)" fill="#000"/>
<text x="474.3" y="275.20">0</text>
<path d="M391 500 262 262 226 412C211 475 173 513 124 513C64 513 22 446 12 335H39C46 395 76 434 113 434C137 434 163 418 179 394C187 381 196 358 202 331L232 207L14 -191H120L262 73L278 -14C293 -89 296 -103 303 -123C324 -179 358 -210 399 -210C435 -210 471 -184 493 -145C510 -114 519 -77 522 -25H498C488 -60 484 -70 477 -80C463 -104 439 -117 413 -117C366 -117 341 -76 311 48L292 127L495 500Z" transform="translate(462.65,297.50) scale(0.02100,-0.02100)" fill="#000"/>
<text x="474.3" y="304.40">1</text>
<path d="M250 508C124 501 36 404 36 270C36 123 142 8 282 1V-222H349V1C479 4 587 125 587 268C587 398 498 513 398 513C322 513 273 450 273 354C273 354 273 341 274 317L282 44C196 56 146 143 146 283C146 392 180 458 250 485ZM337 305C336 318 336 328 336 330C336 399 355 436 389 436C444 436 499 335 499 235C499 126 439 49 349 42Z" transform="translate(461.85,330.75) scale(0.02100,-0.02100)" fill="#000"/>
<text x="474.3" y="336.90">1</text>
<path d="M302 533H247V294H10V239H247V0H302V239H539V294H302Z" transform="translate(473.68,320.20) scale(0.01680,-0.01680)" fill="#000"/>
<path d="M250 508C124 501 36 404 36 270C36 123 142 8 282 1V-222H349V1C479 4 587 125 587 268C587 398 498 513 398 513C322 513 273 450 273 354C273 354 273 341 274 317L282 44C196 56 146 143 146 283C146 392 180 458 250 485ZM337 305C336 318 336 328 336 330C336 399 355 436 389 436C444 436 499 335 499 235C499 126 439 49 349 42Z" transform="translate(461.85,359.95) scale(0.02100,-0.02100)" fill="#000"/>
<text x="474.3" y="366.10">1</text>
<path d="M11 294V239H535V294Z" transform="translate(473.68,349.40) scale(0.01680,-0.01680)" fill="#000"/>
</g>
</svg>
</body></html>
